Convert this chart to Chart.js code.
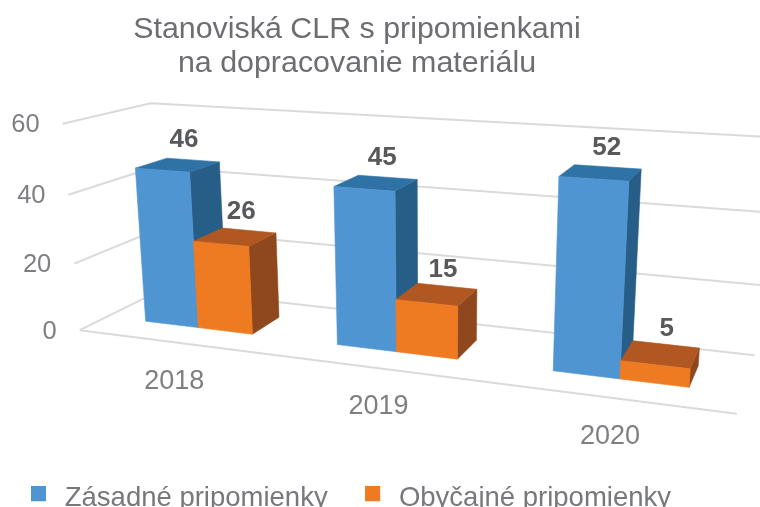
<!DOCTYPE html>
<html>
<head>
<meta charset="utf-8">
<style>
html,body{margin:0;padding:0;width:760px;height:507px;overflow:hidden;background:#fff}
#wrap{position:relative;width:760px;height:522px}
</style>
<script src="https://cdn.jsdelivr.net/npm/chart.js@4"></script>
</head>
<body>
<div id="wrap"><canvas id="c" width="760" height="522"></canvas></div>
<script>
const categories = ['2018', '2019', '2020'];
const zasadne = [46, 45, 52];
const obycajne = [26, 15, 5];
const seriesNames = ['Zásadné pripomienky', 'Obyčajné pripomienky'];
const yTicksMax = 60;
const yTickStep = 20;

// 3D scene camera: wall/floor corners (u across, v up, d back) -> screen
const sceneAnchors = [
  [0,0,0,79,330],[1,0,0,737,413],[0,0,1,163,289],[1,0,1,754,356],
  [0,1,0,63,124],[0,1,1,150,103],[1,1,1,771,137],
  [0,1/3,0,74,264],[0,2/3,0,69,195],[1,1/3,1,760,285],[1,2/3,1,766,212]
];
const barDepth = [0.31, 0.69];
const faceColors = [
  {front:'#4f95d1', top:'#2f72a5', side:'#265e88'},
  {front:'#ee7a22', top:'#b05722', side:'#8f481d'}
];

function solveCamera(anchors){
  const A=[],b=[];
  anchors.forEach(([u,v,d,x,y])=>{
    A.push([u,v,d,1,0,0,0,0,-x*u,-x*v,-x*d]);b.push(x);
    A.push([0,0,0,0,u,v,d,1,-y*u,-y*v,-y*d]);b.push(y);
  });
  const n=11,M=[];
  for(let i=0;i<n;i++){
    M.push([]);
    for(let j=0;j<n;j++){let s=0;A.forEach(r=>s+=r[i]*r[j]);M[i].push(s);}
    let s=0;A.forEach((r,k)=>s+=r[i]*b[k]);M[i].push(s);
  }
  for(let i=0;i<n;i++){
    let p=i;for(let k=i+1;k<n;k++)if(Math.abs(M[k][i])>Math.abs(M[p][i]))p=k;
    [M[i],M[p]]=[M[p],M[i]];
    for(let k=0;k<n;k++){if(k===i)continue;const f=M[k][i]/M[i][i];for(let j=i;j<=n;j++)M[k][j]-=f*M[i][j];}
  }
  return M.map((r,i)=>r[n]/r[i]);
}
const cam=solveCamera(sceneAnchors);
function P(u,v,d){
  const w=cam[8]*u+cam[9]*v+cam[10]*d+1;
  return [(cam[0]*u+cam[1]*v+cam[2]*d+cam[3])/w,(cam[4]*u+cam[5]*v+cam[6]*d+cam[7])/w];
}
function poly(ctx,pts,color){
  ctx.beginPath();pts.forEach((p,i)=>i?ctx.lineTo(p[0],p[1]):ctx.moveTo(p[0],p[1]));ctx.closePath();
  ctx.fillStyle=color;ctx.strokeStyle=color;ctx.lineWidth=0.6;ctx.fill();ctx.stroke();
}
function line(ctx,pts){
  ctx.beginPath();pts.forEach((p,i)=>i?ctx.lineTo(p[0],p[1]):ctx.moveTo(p[0],p[1]));ctx.stroke();
}
const FONT='"Liberation Sans", Arial, sans-serif';

const scene3d={
  id:'scene3d',
  beforeDatasetDraw(){return false;},
  beforeDatasetsDraw(chart){
    const {ctx,chartArea:a,scales:{x:xs,y:ys}}=chart;
    const U=px=>(px-a.left)/(a.right-a.left);
    const V=py=>(a.bottom-py)/(a.bottom-a.top);
    ctx.save();
    // gridlines
    ctx.strokeStyle='#dadada';ctx.lineWidth=2;ctx.lineJoin='round';
    ys.ticks.forEach(t=>{
      const v=V(ys.getPixelForValue(t.value));
      line(ctx,[P(0,v,0),P(0,v,1),P(1,v,1)]);
    });
    line(ctx,[P(1,0,0),P(0,0,0)]);
    // y tick labels
    ctx.fillStyle='#7e7f82';ctx.font='25.5px '+FONT;ctx.textAlign='right';ctx.textBaseline='middle';
    ys.ticks.forEach(t=>{
      const v=V(ys.getPixelForValue(t.value));
      const p=P(0,v,0);
      ctx.fillText(t.label,p[0]-23,p[1]+1.5);
    });
    // category labels
    ctx.font='27px '+FONT;ctx.textAlign='center';
    const m0=chart.getDatasetMeta(0),m1=chart.getDatasetMeta(1);
    categories.forEach((c,i)=>{
      const p=P(U(xs.getPixelForTick(i)),0,0);
      ctx.fillText(c,p[0]+1,p[1]+39);
    });
    // bars
    const [d0,d1]=barDepth;
    categories.forEach((c,i)=>{
      [m0,m1].forEach((m,s)=>{
        const el=m.data[i],col=faceColors[s];
        const ul=U(el.x-el.width/2),ur=U(el.x+el.width/2),vt=V(el.y),vb=V(el.base);
        poly(ctx,[P(ur,vb,d0),P(ur,vb,d1),P(ur,vt,d1),P(ur,vt,d0)],col.side);
        poly(ctx,[P(ul,vt,d0),P(ur,vt,d0),P(ur,vt,d1),P(ul,vt,d1)],col.top);
        poly(ctx,[P(ul,vb,d0),P(ur,vb,d0),P(ur,vt,d0),P(ul,vt,d0)],col.front);
      });
    });
    // data labels
    ctx.fillStyle='#58595b';ctx.font='bold 26px '+FONT;ctx.textAlign='center';
    [m0,m1].forEach((m,s)=>{
      const vals=chart.data.datasets[s].data;
      m.data.forEach((el,i)=>{
        const p=P(U(el.x),V(el.y),(d0+d1)/2);
        ctx.fillText(String(vals[i]),p[0]+6,p[1]-25);
      });
    });
    ctx.restore();
  }
};

function legendSwatch(color){
  const cv=document.createElement('canvas');cv.width=20;cv.height=24;
  const g=cv.getContext('2d');g.fillStyle=color;g.fillRect(0,0,15,15);
  return cv;
}

new Chart(document.getElementById('c'),{
  type:'bar',
  data:{labels:categories,datasets:[
    {label:seriesNames[0],data:zasadne,backgroundColor:faceColors[0].front,barPercentage:1,categoryPercentage:0.571},
    {label:seriesNames[1],data:obycajne,backgroundColor:faceColors[1].front,barPercentage:1,categoryPercentage:0.571}
  ]},
  options:{
    responsive:false,animation:false,
    layout:{padding:{left:-6.5,right:39.5,top:0,bottom:0}},
    scales:{
      x:{display:false,grid:{display:false}},
      y:{display:false,min:0,max:yTicksMax,ticks:{stepSize:yTickStep}}
    },
    plugins:{
      tooltip:{enabled:false},
      title:{display:true,text:['Stanoviská CLR s pripomienkami','na dopracovanie materiálu'],
        color:'#6d6e71',font:{family:FONT,size:30.4,weight:'normal',lineHeight:1.12},padding:{top:13,bottom:8}},
      legend:{display:true,position:'bottom',align:'start',
        labels:{usePointStyle:true,pointStyleWidth:20,boxHeight:15,padding:37.5,color:'#77787b',
          font:{family:FONT,size:27.5},
          generateLabels(chart){
            return chart.data.datasets.map((ds,i)=>({text:ds.label,pointStyle:legendSwatch(faceColors[i].front),fontColor:'#77787b',datasetIndex:i,hidden:false,lineWidth:0}));
          }}}
    }
  },
  plugins:[scene3d]
});
</script>
</body>
</html>
